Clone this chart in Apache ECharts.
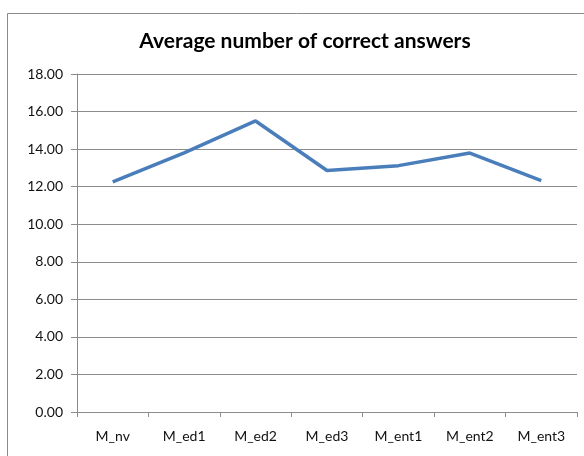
<!DOCTYPE html>
<html>
<head>
<meta charset="utf-8">
<script src="https://cdn.jsdelivr.net/npm/echarts@6/dist/echarts.min.js"></script>
<style>
  html, body { margin: 0; padding: 0; background: #fff; }
  #chart { width: 584px; height: 456px; }
</style>
</head>
<body>
<div id="chart"></div>
<script>
const categories = ['M_nv', 'M_ed1', 'M_ed2', 'M_ed3', 'M_ent1', 'M_ent2', 'M_ent3']
const averageCorrect = [12.25, 13.8, 15.5, 12.86, 13.12, 13.79, 12.32]

const gray = '#8c8c8c'
const font = 'Lato, "Open Sans", sans-serif'

const chart = echarts.init(document.getElementById('chart'))

chart.setOption({
  animation: false,
  title: {
    text: 'Average number of correct answers',
    left: 300,
    top: 26,
    textAlign: 'center',
    textStyle: { fontFamily: font, fontSize: 21, fontWeight: 'bold', color: '#000' },
  },
  // chart frame, cut off on the right and bottom like the original
  graphic: [
    {
      type: 'rect',
      shape: { x: 7.5, y: 13.5, width: 620, height: 480 },
      style: { fill: 'none', stroke: gray, lineWidth: 1 },
      silent: true,
    },
  ],
  grid: { left: 77, right: 7, top: 74, bottom: 44 },
  xAxis: {
    type: 'category',
    data: categories,
    boundaryGap: true,
    axisLine: { lineStyle: { color: gray } },
    axisTick: { show: true, length: 5, alignWithLabel: false, lineStyle: { color: gray } },
    axisLabel: { margin: 17, fontFamily: font, fontSize: 14, color: '#111' },
    splitLine: { show: false },
  },
  yAxis: {
    type: 'value',
    min: 0,
    max: 18,
    interval: 2,
    axisLine: { show: true, lineStyle: { color: gray } },
    axisTick: { show: true, length: 6, lineStyle: { color: gray } },
    axisLabel: {
      margin: 14,
      fontFamily: font,
      fontSize: 14,
      color: '#111',
      formatter: (v) => v.toFixed(2),
    },
    splitLine: { show: true, lineStyle: { color: gray, width: 1 } },
  },
  series: [
    {
      name: 'Average',
      type: 'line',
      data: averageCorrect,
      showSymbol: false,
      symbol: 'none',
      lineStyle: { color: '#4a7ebb', width: 3.5 },
    },
  ],
})
</script>
</body>
</html>
